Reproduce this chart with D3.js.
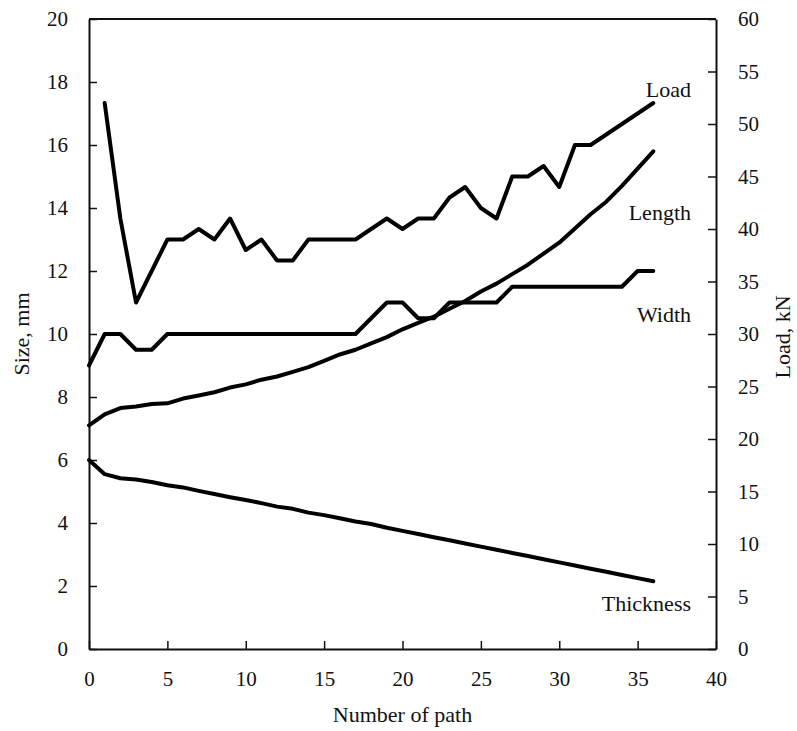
<!DOCTYPE html>
<html>
<head>
<meta charset="utf-8">
<script src="https://cdn.jsdelivr.net/npm/d3@7"></script>
<style>
  body { margin: 0; background: #fff; }
  svg text { font-family: "Liberation Serif", "Times New Roman", Times, "DejaVu Serif", serif !important; fill: #111; }
</style>
</head>
<body>
<div id="chart"></div>
<script>
// path numbers
var paths = d3.range(0, 37);

// size series (mm), left axis
var length = [7.1, 7.45, 7.65, 7.7, 7.78, 7.8, 7.95, 8.05, 8.15, 8.3, 8.4, 8.55, 8.65, 8.8, 8.95, 9.15,
    9.35, 9.5, 9.7, 9.9, 10.15, 10.35, 10.55, 10.8, 11.05, 11.35, 11.6, 11.9, 12.2, 12.55, 12.9,
    13.35, 13.8, 14.2, 14.7, 15.25, 15.8];
var width = [9, 10, 10, 9.5, 9.5, 10, 10, 10, 10, 10, 10, 10, 10, 10, 10, 10, 10, 10, 10.5, 11, 11,
    10.5, 10.5, 11, 11, 11, 11, 11.5, 11.5, 11.5, 11.5, 11.5, 11.5, 11.5, 11.5, 12, 12];
var thickness = [6.0, 5.55, 5.42, 5.38, 5.3, 5.2, 5.13, 5.02, 4.92, 4.82, 4.73, 4.63, 4.52, 4.45, 4.33,
    4.25, 4.15, 4.05, 3.97, 3.85, 3.75, 3.65, 3.55, 3.45, 3.35, 3.25, 3.15, 3.05, 2.95, 2.85, 2.75,
    2.65, 2.55, 2.45, 2.35, 2.25, 2.15];

// load (kN), right axis, starts at path 1
var loadPaths = d3.range(1, 37);
var load = [52, 41, 33, 36, 39, 39, 40, 39, 41, 38, 39, 37, 37, 39, 39, 39, 39, 40, 41, 40, 41, 41,
    43, 44, 42, 41, 45, 45, 46, 44, 48, 48, 49, 50, 51, 52];

var xTicks = [0, 5, 10, 15, 20, 25, 30, 35, 40];
var yLeftTicks = [0, 2, 4, 6, 8, 10, 12, 14, 16, 18, 20];
var yRightTicks = [0, 5, 10, 15, 20, 25, 30, 35, 40, 45, 50, 55, 60];

var W = 797, H = 731;
var marge = { gauche: 89, droite: 716, haut: 19, bas: 649 };
var police = "'Liberation Serif', 'Times New Roman', Times, 'DejaVu Serif', serif";

var svg = d3.select("#chart").append("svg")
    .attr("width", W)
    .attr("height", H)
    .attr("font-family", police);

var x = d3.scaleLinear().domain([0, 40]).range([marge.gauche, marge.droite]);
var yG = d3.scaleLinear().domain([0, 20]).range([marge.bas, marge.haut]);
var yD = d3.scaleLinear().domain([0, 60]).range([marge.bas, marge.haut]);

// axes (ticks pointing inward)
var axeX = svg.append("g")
    .attr("transform", "translate(0," + marge.bas + ")")
    .call(d3.axisBottom(x).tickValues(xTicks).tickSizeInner(-8).tickSizeOuter(0).tickPadding(22));
var axeG = svg.append("g")
    .attr("transform", "translate(" + marge.gauche + ",0)")
    .call(d3.axisLeft(yG).tickValues(yLeftTicks).tickSizeInner(-8).tickSizeOuter(0).tickPadding(21));
var axeD = svg.append("g")
    .attr("transform", "translate(" + marge.droite + ",0)")
    .call(d3.axisRight(yD).tickValues(yRightTicks).tickSizeInner(-8).tickSizeOuter(0).tickPadding(22));

[axeX, axeG, axeD].forEach(function (a) {
    a.attr("font-family", police).attr("font-size", 21);
    a.selectAll("path").attr("stroke", "#111").attr("stroke-width", 2);
    a.selectAll("line").attr("stroke", "#111").attr("stroke-width", 1.5);
    a.selectAll("text").attr("font-size", 21).attr("fill", "#111");
});
axeX.selectAll("text").attr("dy", "0.71em");

// top border
svg.append("line")
    .attr("x1", marge.gauche).attr("x2", marge.droite)
    .attr("y1", marge.haut).attr("y2", marge.haut)
    .attr("stroke", "#111").attr("stroke-width", 2);

// lines
var ligneG = d3.line().x(function (d) { return x(d[0]); }).y(function (d) { return yG(d[1]); });
var ligneD = d3.line().x(function (d) { return x(d[0]); }).y(function (d) { return yD(d[1]); });

[length, width, thickness].forEach(function (serie) {
    svg.append("path")
        .datum(d3.zip(paths, serie))
        .attr("d", ligneG)
        .attr("fill", "none")
        .attr("stroke", "#000")
        .attr("stroke-width", 4)
        .attr("stroke-linejoin", "round")
        .attr("stroke-linecap", "round");
});
svg.append("path")
    .datum(d3.zip(loadPaths, load))
    .attr("d", ligneD)
    .attr("fill", "none")
    .attr("stroke", "#000")
    .attr("stroke-width", 4)
    .attr("stroke-linejoin", "round")
    .attr("stroke-linecap", "round");

// series labels
var etiquettes = [
    { t: "Load", x: 691, y: 97 },
    { t: "Length", x: 691, y: 220 },
    { t: "Width", x: 691, y: 322 },
    { t: "Thickness", x: 691, y: 611 }
];
svg.selectAll(".etiq").data(etiquettes).enter().append("text")
    .attr("class", "etiq")
    .attr("x", function (d) { return d.x; })
    .attr("y", function (d) { return d.y; })
    .attr("text-anchor", "end")
    .attr("font-size", 22)
    .text(function (d) { return d.t; });

// axis titles
svg.append("text")
    .attr("transform", "translate(29,334) rotate(-90)")
    .attr("text-anchor", "middle")
    .attr("font-size", 22)
    .text("Size, mm");
svg.append("text")
    .attr("transform", "translate(790,337) rotate(-90)")
    .attr("text-anchor", "middle")
    .attr("font-size", 22)
    .text("Load, kN");
svg.append("text")
    .attr("x", (marge.gauche + marge.droite) / 2)
    .attr("y", 722)
    .attr("text-anchor", "middle")
    .attr("font-size", 22)
    .text("Number of path");
</script>
</body>
</html>
